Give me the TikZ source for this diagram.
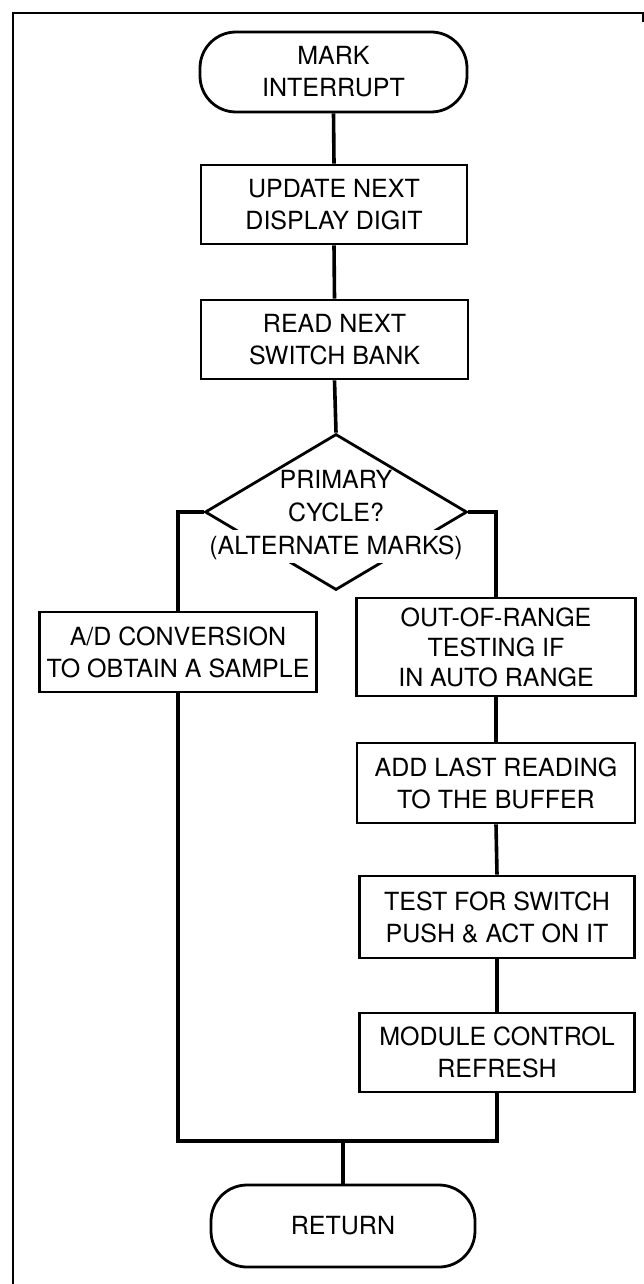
\documentclass[tikz,border=0pt]{standalone}
\usepackage{fontspec}
\setmainfont{TeX Gyre Heros}
\usetikzlibrary{shapes.geometric,calc}
\begin{document}
\begin{tikzpicture}[x=1pt,y=-1pt,
  txt/.style={font=\fontsize{25}{32}\selectfont, align=center, inner sep=0pt},
  box/.style={txt, draw, line width=2.8pt, rectangle},
  term/.style={box, rounded corners=36pt},
  decision/.style={draw, line width=2.8pt, diamond, inner sep=0pt, minimum width=262pt, minimum height=156pt},
  conn/.style={line width=3.6pt},
  frame/.style={line width=2.6pt}]
\useasboundingbox (0,0) rectangle (644,1284);
% frame
\coordinate (fl) at (13,1284);
\coordinate (ftl) at (13,13);
\coordinate (ftr) at (644,13);
\coordinate (frs) at (643,22);
\draw[frame] (fl) -- (ftl) -- (ftr);
\draw[frame] (643,13) -- (frs);
% nodes
\node[term, minimum width=267pt, minimum height=80pt] (start) at (333.5,72) {MARK\\INTERRUPT};
\node[box, minimum width=266pt, minimum height=79pt] (upd) at (334,204.5) {UPDATE NEXT\\DISPLAY DIGIT};
\node[box, minimum width=267pt, minimum height=79pt] (read) at (334.5,339.5) {READ NEXT\\SWITCH BANK};
\node[decision] (dec) at (336,512) {};
\fill[white] ($(dec.center)+(-140,18)$) rectangle ($(dec.center)+(140,51)$);
\node[txt, font=\fontsize{25}{33}\selectfont] (declab) at ($(dec.center)+(0,3)$) {PRIMARY\\CYCLE?\\(ALTERNATE MARKS)};
\node[box, minimum width=277pt, minimum height=80pt] (ad) at (178,652) {A/D CONVERSION\\TO OBTAIN A SAMPLE};
\node[box, font=\fontsize{25}{30}\selectfont, minimum width=279pt, minimum height=98pt] (oor) at (496,647) {OUT-OF-RANGE\\TESTING IF\\IN AUTO RANGE};
\node[box, minimum width=278pt, minimum height=80pt] (add) at (496,783) {ADD LAST READING\\TO THE BUFFER};
\node[box, minimum width=275pt, minimum height=82pt] (test) at (497,917) {TEST FOR SWITCH\\PUSH \& ACT ON IT};
\node[box, minimum width=275pt, minimum height=79pt] (mod) at (497,1052.5) {MODULE CONTROL\\REFRESH};
\node[term, minimum width=264pt, minimum height=82pt] (ret) at (343,1226) {RETURN};
\coordinate (mj) at (343,1141);
% connectors
\draw[conn] (start.south) -- (upd.north);
\draw[conn] (upd.south) -- (read.north);
\draw[conn] (read.south) -- (dec.north);
\draw[conn] (dec.west) -| (ad.north);
\draw[conn] (dec.east) -| (oor.north);
\draw[conn] (oor.south) -- (add.north);
\draw[conn] (add.south) -- (test.north);
\draw[conn] (test.south) -- (mod.north);
\draw[conn] (ad.south) |- (mj);
\draw[conn] (mod.south) |- (mj);
\draw[conn] (mj) -- (ret.north);
\end{tikzpicture}
\end{document}
